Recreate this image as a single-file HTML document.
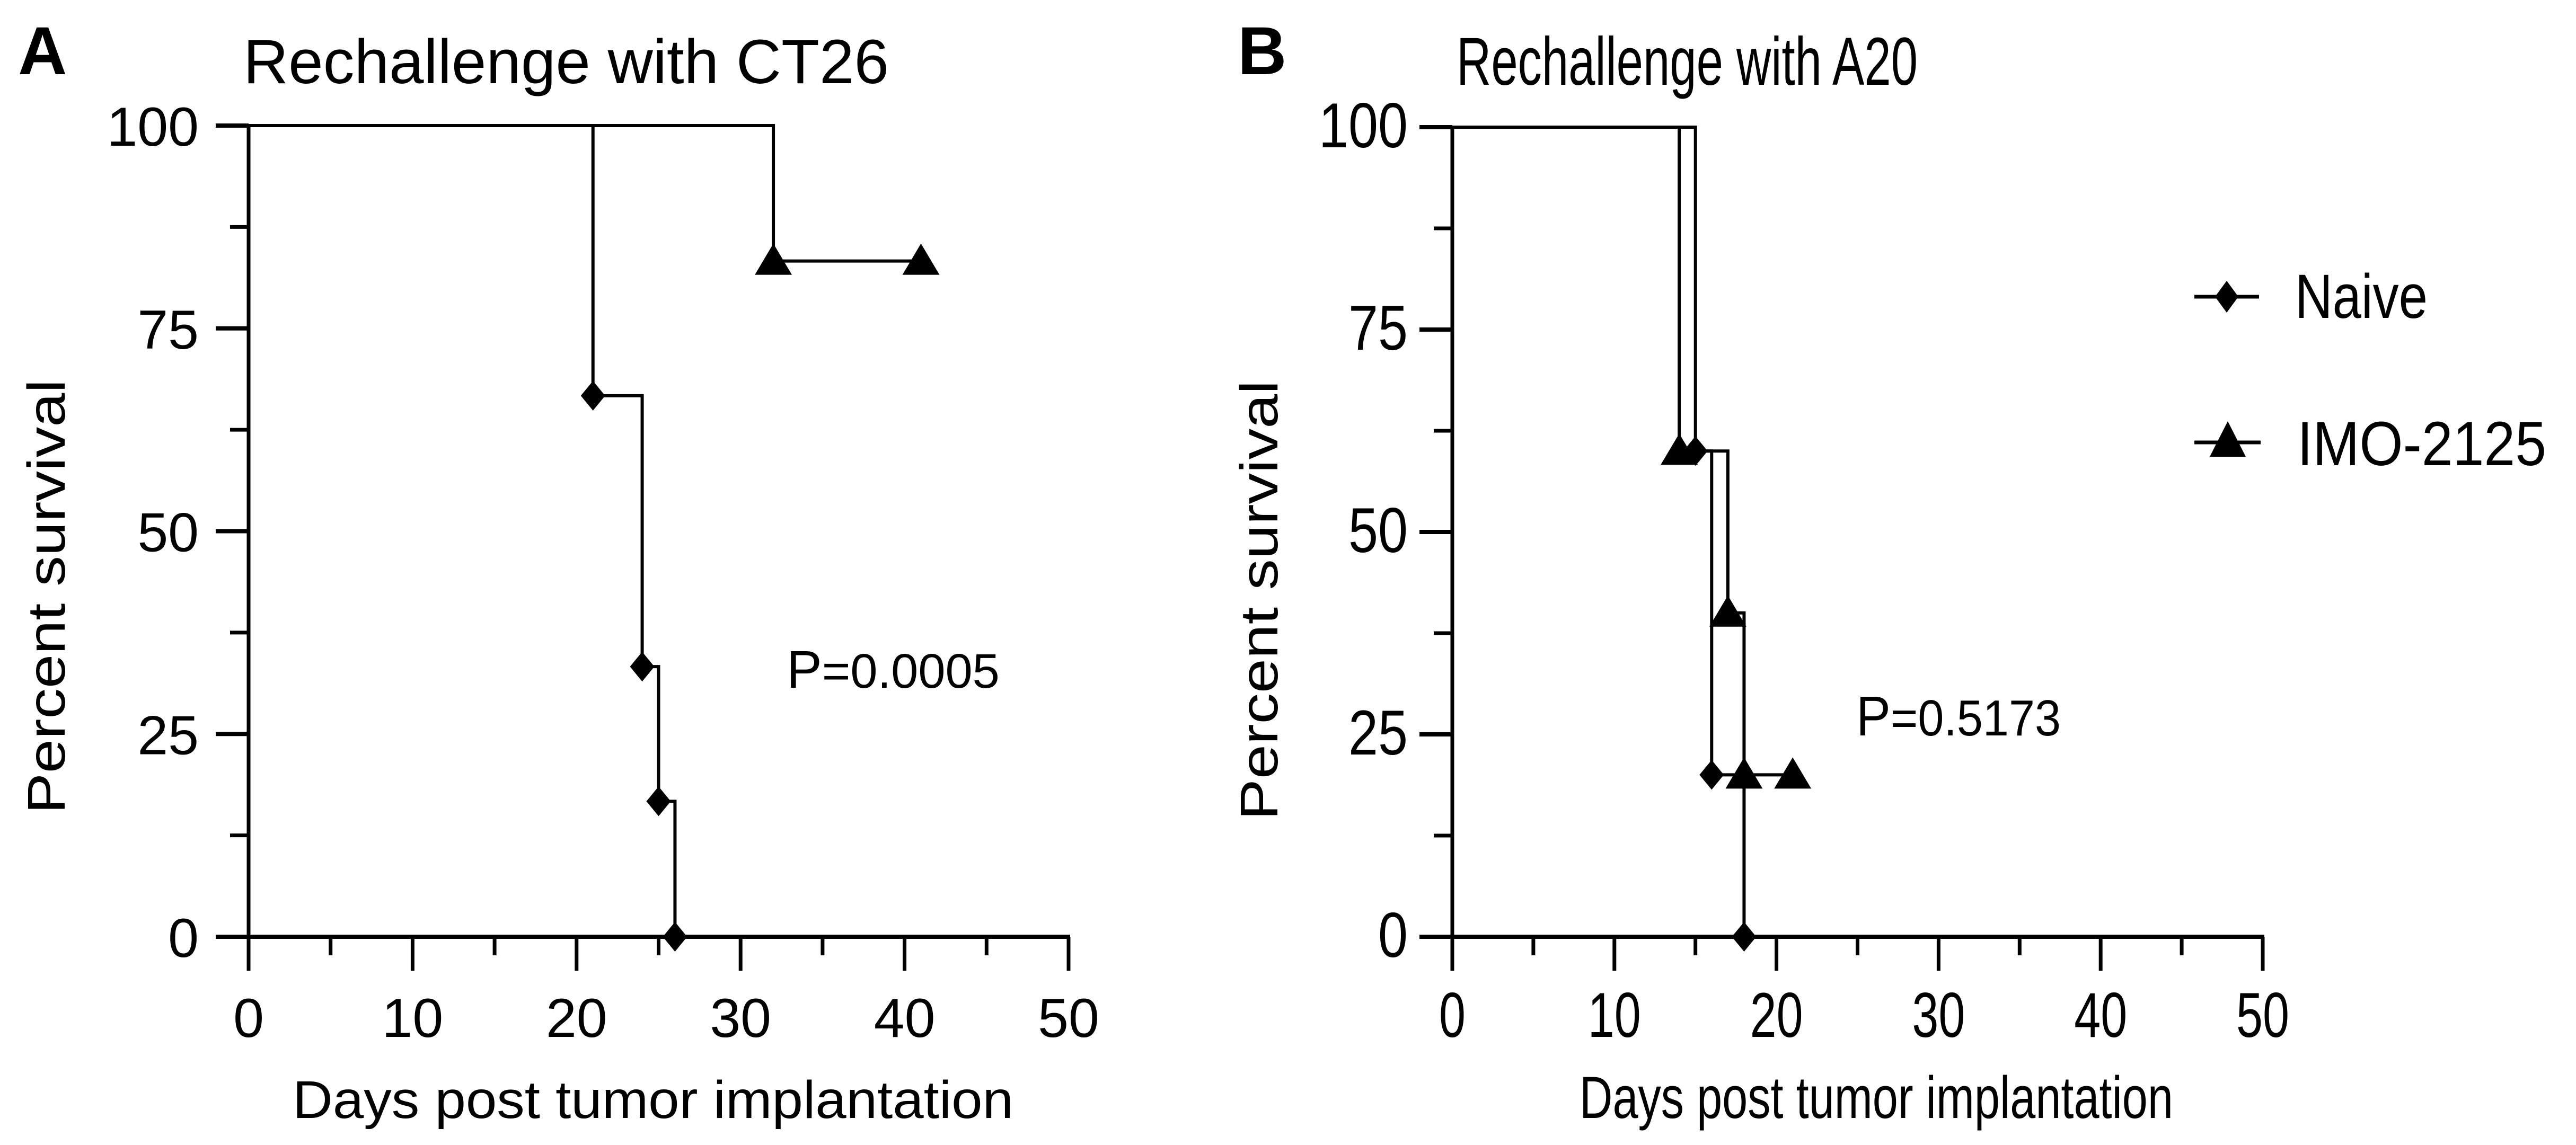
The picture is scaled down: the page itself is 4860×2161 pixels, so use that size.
<!DOCTYPE html>
<html><head><meta charset="utf-8"><style>
html,body{margin:0;padding:0;background:#fff;}
svg{display:block;}
text{font-family:"Liberation Sans",sans-serif;fill:#000;}
</style></head><body>
<svg id="fig" width="4860" height="2161" viewBox="0 0 4860 2161">
<text x="34" y="140" font-size="128" font-weight="bold">A</text>
<text x="459" y="157" font-size="118" textLength="1218" lengthAdjust="spacingAndGlyphs">Rechallenge with CT26</text>
<text x="2335" y="140" font-size="128" font-weight="bold">B</text>
<text x="2748" y="160" font-size="128" textLength="870" lengthAdjust="spacingAndGlyphs">Rechallenge with A20</text>
<g id="pa"></g>
<g id="pb"></g>
<g>
  <line x1="4140" y1="560" x2="4262" y2="560" stroke="#000" stroke-width="7"/>
  <polygon points="4201,530 4223,560 4201,590 4179,560" fill="#000"/>
  <text x="4330" y="600" font-size="118" textLength="250" lengthAdjust="spacingAndGlyphs">Naive</text>
  <line x1="4140" y1="835" x2="4265" y2="835" stroke="#000" stroke-width="7"/>
  <polygon points="4203,795 4237,862 4169,862" fill="#000"/>
  <text x="4334" y="878" font-size="118" textLength="470" lengthAdjust="spacingAndGlyphs">IMO-2125</text>
</g>
<text x="1484" y="1298" font-size="92"><tspan font-size="100">P</tspan>=0.0005</text>
<text x="3502" y="1388" font-size="96" textLength="386" lengthAdjust="spacingAndGlyphs"><tspan font-size="106">P</tspan>=0.5173</text>
</svg>
<script>
// Panel A data
const aNaiveX = [0, 21, 24, 25, 26];
const aNaiveY = [100, 66.7, 33.3, 16.7, 0];
const aNaiveMarkX = [21, 24, 25, 26];
const aNaiveMarkY = [66.7, 33.3, 16.7, 0];
const aImoX = [0, 32, 41];
const aImoY = [100, 83.3, 83.3];
const aImoMarkX = [32, 41];
const aImoMarkY = [83.3, 83.3];
// Panel B data
const bNaiveX = [0, 15, 16, 18];
const bNaiveY = [100, 60, 20, 0];
const bNaiveMarkX = [15, 16, 18];
const bNaiveMarkY = [60, 20, 0];
const bImoX = [0, 14, 17, 18, 21];
const bImoY = [100, 60, 40, 20, 20];
const bImoMarkX = [14, 17, 18, 21];
const bImoMarkY = [60, 40, 20, 20];
// Axis ticks
const xTicks = [0, 10, 20, 30, 40, 50];
const xTickLabels = ["0", "10", "20", "30", "40", "50"];
const yTicks = [0, 25, 50, 75, 100];
const yTickLabels = ["0", "25", "50", "75", "100"];
const xMinor = [5, 15, 25, 35, 45];
const yMinor = [12.5, 37.5, 62.5, 87.5];

const NS = "http://www.w3.org/2000/svg";
function mk(parent, tag, attrs) {
  const e = document.createElementNS(NS, tag);
  for (const k in attrs) e.setAttribute(k, attrs[k]);
  parent.appendChild(e);
  return e;
}

function panel(g, cfg, series) {
  const sx = v => cfg.x0 + (cfg.x1 - cfg.x0) * v / 50;
  const sy = v => cfg.y0 + (cfg.y1 - cfg.y0) * v / 100;
  let e = mk(g, "line", {x1: sx(0), y1: sy(0) + 4, x2: sx(0), y2: sy(100), stroke: "#000", "stroke-width": 7});
  
  
  e = mk(g, "line", {x1: sx(0) - 60, y1: sy(0), x2: sx(50) + 3, y2: sy(0), stroke: "#000", "stroke-width": 8});
  
  
  xTicks.forEach((v, i) => {
    let t = mk(g, "line", {x1: sx(v), y1: sy(0), x2: sx(v), y2: sy(0) + 64, stroke: "#000", "stroke-width": 7});
    
    
    let l = mk(g, "text", {x: sx(v), y: 1957, "font-size": cfg.tickFs, "text-anchor": "middle"});
    if (cfg.narrow) { l.setAttribute("textLength", 50 * xTickLabels[i].length); l.setAttribute("lengthAdjust", "spacingAndGlyphs"); }
    l.textContent = xTickLabels[i];
    
    
  });
  xMinor.forEach(v => {
    let t = mk(g, "line", {x1: sx(v), y1: sy(0), x2: sx(v), y2: sy(0) + 35, stroke: "#000", "stroke-width": 7});
    
    
  });
  yTicks.forEach((v, i) => {
    let t = mk(g, "line", {x1: sx(0) - 62, y1: sy(v), x2: sx(0), y2: sy(v), stroke: "#000", "stroke-width": 8});
    
    
    let l = mk(g, "text", {x: sx(0) - cfg.labGap, y: sy(v) + 38, "font-size": cfg.tickFs, "text-anchor": "end"});
    if (cfg.narrow) { l.setAttribute("textLength", 56 * yTickLabels[i].length); l.setAttribute("lengthAdjust", "spacingAndGlyphs"); }
    l.textContent = yTickLabels[i];
    
    
  });
  yMinor.forEach(v => {
    let t = mk(g, "line", {x1: sx(0) - 35, y1: sy(v), x2: sx(0), y2: sy(v), stroke: "#000", "stroke-width": 7});
    
    
  });
  let xt = mk(g, "text", {x: cfg.xtX, y: 2110, "font-size": cfg.titleFs, "text-anchor": "middle", textLength: cfg.xtLen, lengthAdjust: "spacingAndGlyphs"});
  xt.textContent = "Days post tumor implantation";
  
  
  let yt = mk(g, "text", {x: 0, y: 0, "font-size": 100, "text-anchor": "middle", textLength: cfg.ytLen, lengthAdjust: "spacingAndGlyphs",
    transform: "translate(" + cfg.ytX + "," + cfg.ytY + ") rotate(-90)"});
  yt.textContent = "Percent survival";
  
  
  series.forEach(s => {
    let d = "M" + sx(s.x[0]) + "," + sy(s.y[0]);
    for (let i = 1; i < s.x.length; i++) {
      d += " H" + sx(s.x[i]) + " V" + sy(s.y[i]);
    }
    let p = mk(g, "path", {d: d, fill: "none", stroke: "#000", "stroke-width": 6});
    
    
    s.mx.forEach((v, i) => {
      const cx = sx(v), cy = sy(s.my[i]);
      let pts;
      if (s.shape === "diamond") pts = [cx, cy - 28, cx + 23, cy, cx, cy + 28, cx - 23, cy];
      else pts = [cx, cy - 33, cx + 35, cy + 26, cx - 35, cy + 26];
      let m = mk(g, "polygon", {points: pts.join(","), fill: "#000"});
      
      
    });
  });
}

panel(document.getElementById("pa"),
  {x0: 469, x1: 2016, y0: 1768, y1: 237, tickFs: 104, labGap: 94, narrow: false, xtX: 1232, xtLen: 1360, titleFs: 100, ytX: 122, ytY: 1126, ytLen: 820},
  [{name: "a-naive", x: aNaiveX, y: aNaiveY, mx: aNaiveMarkX, my: aNaiveMarkY, shape: "diamond"},
   {name: "a-imo-2125", x: aImoX, y: aImoY, mx: aImoMarkX, my: aImoMarkY, shape: "triangle"}]);
panel(document.getElementById("pb"),
  {x0: 2740, x1: 4269, y0: 1768, y1: 240, tickFs: 120, labGap: 84, narrow: true, xtX: 3540, xtLen: 1120, titleFs: 112, ytX: 2410, ytY: 1133, ytLen: 830},
  [{name: "b-naive", x: bNaiveX, y: bNaiveY, mx: bNaiveMarkX, my: bNaiveMarkY, shape: "diamond"},
   {name: "b-imo-2125", x: bImoX, y: bImoY, mx: bImoMarkX, my: bImoMarkY, shape: "triangle"}]);
</script>
</body></html>
